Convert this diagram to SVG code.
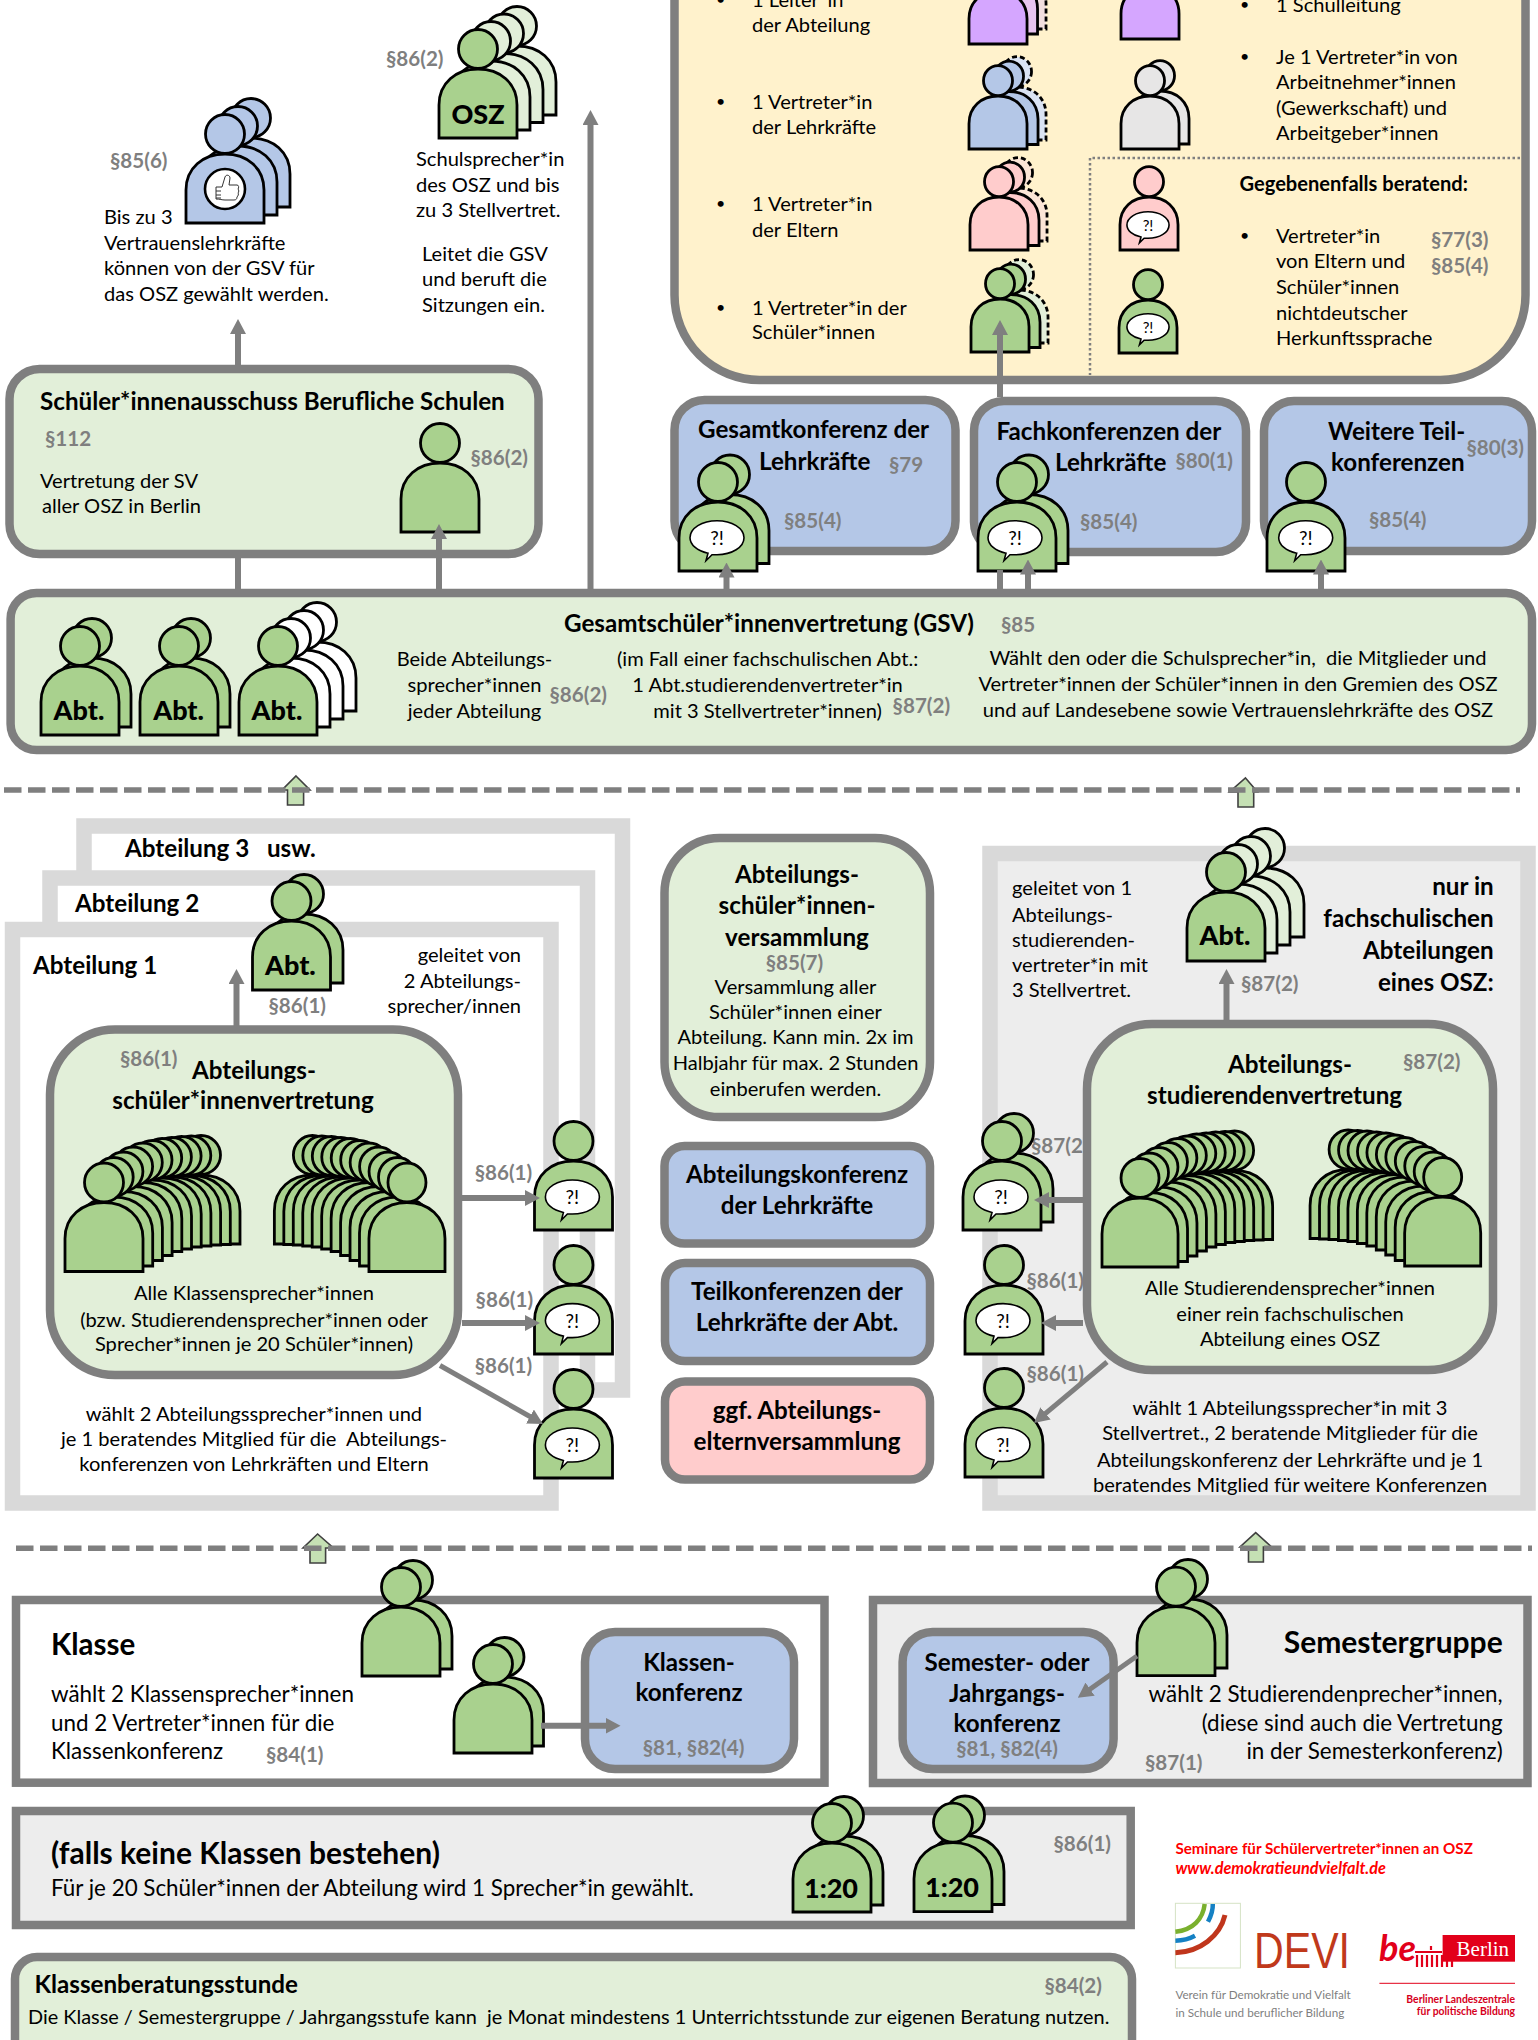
<svg xmlns="http://www.w3.org/2000/svg" width="1538" height="2040" viewBox="0 0 1538 2040">
<style>
text{font-family:Lato,"Open Sans","Liberation Sans",sans-serif;font-size:20.1px;fill:#000;white-space:pre}
.b{font-weight:700}
.h{font-weight:700;font-size:24.2px}
.s{font-weight:700;fill:#7f7f7f;font-size:20.6px}
.m{text-anchor:middle}
.e{text-anchor:end}
.abt{font-weight:900;font-size:27px;text-anchor:middle}
.q{font-size:19px;text-anchor:middle}
.bu{font-size:16px}
.l{font-size:22.4px}
.ppl{stroke:#000;stroke-width:2.8;stroke-linejoin:miter}
.ns{vector-effect:non-scaling-stroke}
.box{stroke:#7f7f7f;stroke-width:8.5}
.fr{stroke:#d9d9d9;stroke-width:15.5}
.g{fill:#a9d18e}.gl{fill:#e2efd9}.bl{fill:#b4c7e7}.pk{fill:#ffcccc}
.dash{stroke-dasharray:5 3}
.lv{fill:#c5e0b4;stroke:#404040;stroke-width:1.6}
.con line{stroke:#7f7f7f;stroke-width:6;fill:none}
.dl{stroke:#7f7f7f;stroke-width:5.5;stroke-dasharray:17.5 6.5;fill:none}
</style>
<defs>
<g id="p">
<path class="ns" d="M0 69V36C0 14 17 0 39 0S78 14 78 36V69Z"/>
<ellipse class="ns" cx="39" cy="-20" rx="19.5" ry="19.5"/>
</g>
<g id="crowdL">
<use href="#p" x="97" y="-27.5"/><use href="#p" x="87.3" y="-27"/><use href="#p" x="77.6" y="-26.5"/><use href="#p" x="67.9" y="-25.5"/><use href="#p" x="58.2" y="-24.5"/><use href="#p" x="48.5" y="-22.5"/><use href="#p" x="38.8" y="-20"/><use href="#p" x="29.1" y="-16"/><use href="#p" x="19.4" y="-11"/><use href="#p" x="9.7" y="-5.5"/><use href="#p"/>
</g>
<path id="bub" class="ns" fill="#fff" stroke="#000" stroke-width="1.6" d="M-9 15.5C-20 13-27 7-27 0C-27-9.5-15-17 0-17S27-9.5 27 0S15 17 0 17C-2 17-3 17-5 17L-11 23Z"/>
<marker id="a" markerUnits="userSpaceOnUse" markerWidth="15" markerHeight="16" refX="5" refY="8" orient="auto"><path d="M0 0L15 8L0 16Z" fill="#7f7f7f"/></marker>
</defs>

<g id="abteilung-3"><rect x="84" y="826" width="538.5" height="564" fill="#fff" class="fr"/><text x="125" y="857" class="h">Abteilung 3   usw.</text></g>
<g id="abteilung-2"><rect x="50" y="878" width="537.5" height="512" fill="#fff" class="fr"/><text x="75" y="912" class="h">Abteilung 2</text></g>
<g id="abteilung-1"><rect x="12.5" y="929.5" width="538.5" height="573.5" fill="#fff" class="fr"/><text x="33" y="974" class="h">Abteilung 1</text>
<text x="521" y="962" class="e">geleitet von</text><text x="521" y="988" class="e">2 Abteilungs-</text><text x="521" y="1013" class="e">sprecher/innen</text>
<text x="254" y="1420.6" class="m">wählt 2 Abteilungssprecher*innen und</text><text x="254" y="1446" class="m">je 1 beratendes Mitglied für die  Abteilungs-</text><text x="254" y="1471" class="m">konferenzen von Lehrkräften und Eltern</text></g>
<g id="fachschule"><rect x="990" y="853.5" width="538" height="649.5" fill="#ededed" class="fr"/>
<text x="1012" y="895" >geleitet von 1</text><text x="1012" y="921.6">Abteilungs-</text><text x="1012" y="947">studierenden-</text><text x="1012" y="972">vertreter*in mit</text><text x="1012" y="997">3 Stellvertret.</text>
<text x="1493.7" y="895.4" class="h e">nur in</text><text x="1493.7" y="927" class="h e">fachschulischen</text><text x="1493.7" y="959" class="h e">Abteilungen</text><text x="1493.7" y="991" class="h e">eines OSZ:</text>
<text x="1241" y="990.5" class="s">§87(2)</text>
<text x="1290" y="1415" class="m">wählt 1 Abteilungssprecher*in mit 3</text><text x="1290" y="1440.4" class="m">Stellvertret., 2 beratende Mitglieder für die</text><text x="1290" y="1466.6" class="m">Abteilungskonferenz der Lehrkräfte und je 1</text><text x="1290" y="1492" class="m">beratendes Mitglied für weitere Konferenzen</text></g>

<g id="vertrauen" class="ppl bl">
<use href="#p" transform="translate(212 138)"/><use href="#p" transform="translate(199 146)"/><use href="#p" transform="translate(186 154)"/>
<circle cx="225" cy="189" r="20" fill="#fff" stroke="#000" stroke-width="2.6"/>
<path fill="none" stroke="#333" stroke-width="1" d="M216 187h6l3-10c1-3 5-2 5 1l-1 7h8c2 0 2 3 1 4 1 1 1 3 0 4 1 1 0 3-1 4 0 2-1 3-3 3h-9c-3 0-5-1-9-1zM216 191h5M216 195h5M216 198h5"/>
</g>
<g id="vertrauen-text"><text x="110" y="168" class="s">§85(6)</text>
<text x="104" y="224">Bis zu 3</text><text x="104" y="249.5">Vertrauenslehrkräfte</text><text x="104" y="275">können von der GSV für</text><text x="104" y="301">das OSZ gewählt werden.</text></g>

<g id="osz"><g class="ppl gl"><use href="#p" transform="translate(478 46)"/><use href="#p" transform="translate(465 53.5)"/><use href="#p" transform="translate(452 61)"/></g>
<g class="ppl g"><use href="#p" transform="translate(439 69)"/></g>
<text x="478" y="124" class="abt">OSZ</text><text x="386" y="66" class="s">§86(2)</text>
<text x="416" y="166">Schulsprecher*in</text><text x="416" y="191.5">des OSZ und bis</text><text x="416" y="217">zu 3 Stellvertret.</text>
<text x="422" y="261">Leitet die GSV</text><text x="422" y="286">und beruft die</text><text x="422" y="312">Sitzungen ein.</text></g>

<g id="schuelerausschuss"><rect x="9.5" y="369" width="529" height="185" rx="30" class="box gl"/>
<text x="40" y="409.5" class="h">Schüler*innenausschuss Berufliche Schulen</text>
<text x="45" y="446" class="s">§112</text><text x="40" y="487.5">Vertretung der SV</text><text x="42" y="513">aller OSZ in Berlin</text>
<use href="#p" transform="translate(401 463)" class="ppl g"/><text x="470.5" y="464.5" class="s">§86(2)</text></g>

<g id="gremium"><rect x="674.5" y="-100" width="851" height="480" rx="85" fill="#fff2cc" class="box"/>
<text x="716" y="5" class="bu">•</text><text x="752" y="6.5">1 Leiter*in</text><text x="752" y="32">der Abteilung</text>
<text x="716" y="107" class="bu">•</text><text x="752" y="109">1 Vertreter*in</text><text x="752" y="134">der Lehrkräfte</text>
<text x="716" y="209" class="bu">•</text><text x="752" y="211">1 Vertreter*in</text><text x="752" y="236.5">der Eltern</text>
<text x="716" y="312.6" class="bu">•</text><text x="752" y="314.6">1 Vertreter*in der</text><text x="752" y="339">Schüler*innen</text>
<text x="1240" y="9.5" class="bu">•</text><text x="1276" y="11.5">1 Schulleitung</text>
<text x="1240" y="62" class="bu">•</text><text x="1276" y="64">Je 1 Vertreter*in von</text><text x="1276" y="89">Arbeitnehmer*innen</text><text x="1276" y="115">(Gewerkschaft) und</text><text x="1276" y="140">Arbeitgeber*innen</text>
<text x="1239.5" y="191" class="b">Gegebenenfalls beratend:</text>
<text x="1240" y="241" class="bu">•</text><text x="1276" y="243">Vertreter*in</text><text x="1276" y="268">von Eltern und</text><text x="1276" y="294">Schüler*innen</text><text x="1276" y="320">nichtdeutscher</text><text x="1276" y="345">Herkunftssprache</text>
<text x="1431" y="247" class="s">§77(3)</text><text x="1431" y="272.5" class="s">§85(4)</text>
<path d="M1525 158H1090V375" fill="none" stroke="#7f7f7f" stroke-width="2.5" stroke-dasharray="2.5 2.5"/>
<g class="ppl">
<use href="#p" transform="translate(988 -24) scale(.744 .768)" fill="#f2dfdf" class="dash"/><use href="#p" transform="translate(979.5 -19) scale(.744 .768)" fill="#e8c4f0"/><use href="#p" transform="translate(969 -9) scale(.744 .768)" fill="#d5a6ff"/>
<use href="#p" transform="translate(1121 -14) scale(.744 .768)" fill="#d5a6ff"/>
<use href="#p" transform="translate(988 87) scale(.744 .768)" fill="#dae3f3" class="dash"/><use href="#p" transform="translate(980 91.5) scale(.744 .768)" fill="#b4c7e7"/><use href="#p" transform="translate(969 96) scale(.744 .768)" fill="#b4c7e7"/>
<use href="#p" transform="translate(1131 91) scale(.744 .768)" fill="#e7e6e6"/><use href="#p" transform="translate(1121 96) scale(.744 .768)" fill="#e7e6e6"/>
<use href="#p" transform="translate(989 188) scale(.744 .768)" fill="#fbe5d6" class="dash"/><use href="#p" transform="translate(981 192.5) scale(.744 .768)" fill="#ffcccc"/><use href="#p" transform="translate(970 197) scale(.744 .768)" fill="#ffcccc"/>
<use href="#p" transform="translate(1120 197) scale(.744 .768)" fill="#ffcccc"/>
<use href="#p" transform="translate(990 290) scale(.744 .768)" fill="#e2efd9" class="dash"/><use href="#p" transform="translate(982 294.5) scale(.744 .768)" fill="#a9d18e"/><use href="#p" transform="translate(971 299) scale(.744 .768)" fill="#a9d18e"/>
<use href="#p" transform="translate(1119 300) scale(.744 .768)" fill="#a9d18e"/>
</g>
<use href="#bub" transform="translate(1148 225) scale(.78)"/><text x="1148" y="230.5" class="q" style="font-size:15px">?!</text>
<use href="#bub" transform="translate(1148 327) scale(.78)"/><text x="1148" y="332.5" class="q" style="font-size:15px">?!</text></g>

<g id="gesamtkonferenz"><rect x="674.5" y="400" width="281" height="151" rx="30" class="box bl"/>
<text x="698" y="438" class="h">Gesamtkonferenz der</text><text x="759" y="469.6" class="h">Lehrkräfte</text>
<text x="889" y="471.5" class="s">§79</text><text x="784" y="528" class="s">§85(4)</text>
<g class="ppl g"><use href="#p" transform="translate(691 494.5)"/><use href="#p" transform="translate(679 502)"/></g>
<use href="#bub" transform="translate(717 537.7)"/><text x="717" y="544.5" class="q">?!</text></g>

<g id="fachkonferenzen"><rect x="974" y="401" width="272" height="151" rx="30" class="box bl"/>
<text x="996.5" y="440" class="h">Fachkonferenzen der</text><text x="1055" y="471" class="h">Lehrkräfte</text>
<text x="1175.5" y="468" class="s">§80(1)</text><text x="1080" y="529" class="s">§85(4)</text>
<g class="ppl g"><use href="#p" transform="translate(990 494.5)"/><use href="#p" transform="translate(978 502)"/></g>
<use href="#bub" transform="translate(1015 537.7)"/><text x="1015" y="544.5" class="q">?!</text></g>

<g id="teilkonferenzen"><rect x="1264" y="401" width="268" height="150" rx="30" class="box bl"/>
<text x="1328" y="440" class="h">Weitere Teil-</text><text x="1331" y="471" class="h">konferenzen</text>
<text x="1466.5" y="455" class="s">§80(3)</text><text x="1369" y="526.5" class="s">§85(4)</text>
<use href="#p" transform="translate(1267 502)" class="ppl g"/>
<use href="#bub" transform="translate(1305.7 537.7)"/><text x="1305.7" y="544.5" class="q">?!</text></g>

<g id="gsv"><rect x="10.6" y="593" width="1521.4" height="157" rx="26" class="box gl"/>
<g class="ppl g"><use href="#p" transform="translate(53 658)"/><use href="#p" transform="translate(41 666)"/><use href="#p" transform="translate(152 658)"/><use href="#p" transform="translate(140 666)"/></g>
<g class="ppl" fill="#fff"><use href="#p" transform="translate(278 642)"/><use href="#p" transform="translate(265 650)"/><use href="#p" transform="translate(252 658)"/></g>
<use href="#p" transform="translate(239 666)" class="ppl g"/>
<text x="79" y="720" class="abt">Abt.</text><text x="178.6" y="720" class="abt">Abt.</text><text x="277" y="720" class="abt">Abt.</text>
<text x="474.5" y="666" class="m">Beide Abteilungs-</text><text x="474.5" y="691.7" class="m">sprecher*innen</text><text x="474.5" y="717.7" class="m">jeder Abteilung</text>
<text x="549.5" y="702" class="s">§86(2)</text>
<text x="767.6" y="666" class="m">(im Fall einer fachschulischen Abt.:</text><text x="767.6" y="691.7" class="m">1 Abt.studierendenvertreter*in</text><text x="767.6" y="717.7" class="m">mit 3 Stellvertreter*innen)</text>
<text x="892.6" y="713" class="s">§87(2)</text>
<text x="564" y="631.7" class="h">Gesamtschüler*innenvertretung (GSV)</text><text x="1001" y="632" class="s">§85</text>
<text x="1238" y="665" class="m">Wählt den oder die Schulsprecher*in,  die Mitglieder und</text><text x="1238" y="691" class="m">Vertreter*innen der Schüler*innen in den Gremien des OSZ</text><text x="1238" y="717" class="m">und auf Landesebene sowie Vertrauenslehrkräfte des OSZ</text></g>

<g id="abt-sprecher"><g class="ppl g"><use href="#p" transform="translate(265 914)"/><use href="#p" transform="translate(252.5 921)"/></g>
<text x="290.4" y="975" class="abt">Abt.</text><text x="268.5" y="1013" class="s">§86(1)</text></g>

<g id="abt-vertretung"><rect x="50" y="1029.5" width="408" height="345.5" rx="65" class="box gl"/>
<text x="120" y="1066" class="s">§86(1)</text><text x="254" y="1078.6" class="h m">Abteilungs-</text><text x="243" y="1109" class="h m">schüler*innenvertretung</text>
<g class="ppl g"><use href="#crowdL" transform="translate(65 1202.5)"/><use href="#crowdL" transform="translate(445 1202.5) scale(-.975 1)"/></g>
<text x="254" y="1300" class="m">Alle Klassensprecher*innen</text><text x="254" y="1326.5" class="m">(bzw. Studierendensprecher*innen oder</text><text x="254" y="1351" class="m">Sprecher*innen je 20 Schüler*innen)</text></g>

<g id="abt-berater">
<g class="ppl g"><use href="#p" transform="translate(534.5 1161)"/><use href="#p" transform="translate(534.5 1285)"/><use href="#p" transform="translate(534.5 1409)"/></g>
<use href="#bub" transform="translate(572.4 1197)"/><text x="572.4" y="1204" class="q">?!</text>
<use href="#bub" transform="translate(572.4 1320.6)"/><text x="572.4" y="1327.5" class="q">?!</text>
<use href="#bub" transform="translate(572.4 1445)"/><text x="572.4" y="1452" class="q">?!</text>
<text x="474.7" y="1179.6" class="s">§86(1)</text><text x="475.6" y="1306.8" class="s">§86(1)</text><text x="474.7" y="1373" class="s">§86(1)</text></g>

<g id="versammlung"><rect x="664.5" y="838" width="265.5" height="279" rx="55" class="box gl"/>
<text x="797" y="882.5" class="h m">Abteilungs-</text><text x="797" y="914" class="h m">schüler*innen-</text><text x="797" y="945.5" class="h m">versammlung</text>
<text x="794.4" y="970" class="s m">§85(7)</text>
<text x="795.5" y="993.6" class="m">Versammlung aller</text><text x="795.5" y="1019" class="m">Schüler*innen einer</text><text x="795.5" y="1044" class="m">Abteilung. Kann min. 2x im</text><text x="795.5" y="1070" class="m">Halbjahr für max. 2 Stunden</text><text x="795.5" y="1096" class="m">einberufen werden.</text></g>
<g id="abt-konferenz"><rect x="664.5" y="1146" width="265.5" height="97.5" rx="20" class="box bl"/><text x="797" y="1183" class="h m">Abteilungskonferenz</text><text x="797" y="1214" class="h m">der Lehrkräfte</text></g>
<g id="teil-konferenz"><rect x="665" y="1263" width="265" height="98" rx="20" class="box bl"/><text x="797" y="1300" class="h m">Teilkonferenzen der</text><text x="797" y="1331" class="h m">Lehrkräfte der Abt.</text></g>
<g id="eltern"><rect x="665" y="1381.5" width="265" height="98" rx="20" class="box pk"/><text x="797" y="1419" class="h m">ggf. Abteilungs-</text><text x="797" y="1449.6" class="h m">elternversammlung</text></g>

<g id="fach-sprecher"><g class="ppl gl"><use href="#p" transform="translate(1226 868)"/><use href="#p" transform="translate(1212 876)"/><use href="#p" transform="translate(1199 884)"/></g>
<use href="#p" transform="translate(1187 892)" class="ppl g"/><text x="1225" y="945" class="abt">Abt.</text></g>
<g id="fach-berater">
<text x="1031" y="1153.4" class="s">§87(2)</text><text x="1026.5" y="1287.5" class="s">§86(1)</text><text x="1026.5" y="1380.7" class="s">§86(1)</text>
<g class="ppl g"><use href="#p" transform="translate(975 1153)"/><use href="#p" transform="translate(963 1161)"/><use href="#p" transform="translate(965 1285)"/><use href="#p" transform="translate(965 1408)"/></g>
<use href="#bub" transform="translate(1001 1197)"/><text x="1001" y="1204" class="q">?!</text>
<use href="#bub" transform="translate(1003 1320.6)"/><text x="1003" y="1327.5" class="q">?!</text>
<use href="#bub" transform="translate(1003 1444.5)"/><text x="1003" y="1451.5" class="q">?!</text></g>
<g id="fach-vertretung"><rect x="1087" y="1024" width="406" height="346" rx="65" class="box gl"/>
<text x="1290" y="1072.6" class="h m">Abteilungs-</text><text x="1274.6" y="1104" class="h m">studierendenvertretung</text><text x="1403" y="1069.4" class="s">§87(2)</text>
<g class="ppl g"><use href="#crowdL" transform="translate(1102 1198) scale(.975 1)"/><use href="#crowdL" transform="translate(1480.7 1197) scale(-.975 1)"/></g>
<text x="1290" y="1295" class="m">Alle Studierendensprecher*innen</text><text x="1290" y="1320.6" class="m">einer rein fachschulischen</text><text x="1290" y="1346" class="m">Abteilung eines OSZ</text></g>

<g id="klasse"><rect x="16" y="1600" width="808.5" height="182.7" fill="#fff" class="box"/>
<text x="51" y="1655" style="font-size:29.5px" class="b">Klasse</text>
<text x="51" y="1701.7" class="l">wählt 2 Klassensprecher*innen</text><text x="51" y="1730.7" class="l">und 2 Vertreter*innen für die</text><text x="51" y="1759" class="l">Klassenkonferenz</text>
<text x="266" y="1761.7" class="s">§84(1)</text>
<rect x="585" y="1632" width="209" height="137" rx="30" class="box bl"/>
<text x="689" y="1670.7" class="h m">Klassen-</text><text x="689" y="1701" class="h m">konferenz</text><text x="693.5" y="1755" class="s m">§81, §82(4)</text>
<g class="ppl g"><use href="#p" transform="translate(374 1600)"/><use href="#p" transform="translate(362 1607)"/><use href="#p" transform="translate(465.5 1677)"/><use href="#p" transform="translate(454 1684)"/></g></g>

<g id="semester"><rect x="873" y="1600" width="654.5" height="183" fill="#ededed" class="box"/>
<text x="1502.7" y="1653" style="font-size:30px" class="b e">Semestergruppe</text>
<text x="1502.7" y="1701.7" class="l e">wählt 2 Studierendenprecher*innen,</text><text x="1502.7" y="1730.7" class="l e">(diese sind auch die Vertretung</text><text x="1502.7" y="1759" class="l e">in der Semesterkonferenz)</text>
<text x="1145" y="1770" class="s">§87(1)</text>
<rect x="902.6" y="1632" width="211" height="137" rx="30" class="box bl"/>
<text x="1007" y="1670.7" class="h m">Semester- oder</text><text x="1007" y="1701.7" class="h m">Jahrgangs-</text><text x="1007" y="1732" class="h m">konferenz</text><text x="1007" y="1756" class="s m">§81, §82(4)</text>
<g class="ppl g"><use href="#p" transform="translate(1149 1599)"/><use href="#p" transform="translate(1137 1606.7)"/></g></g>

<g id="keine-klassen"><rect x="16" y="1811" width="1114.7" height="114" fill="#ededed" class="box"/>
<text x="51" y="1864" style="font-size:30px" class="b">(falls keine Klassen bestehen)</text>
<text x="51" y="1895.6" class="l">Für je 20 Schüler*innen der Abteilung wird 1 Sprecher*in gewählt.</text>
<text x="1053.5" y="1850.7" class="s">§86(1)</text>
<g class="ppl g"><use href="#p" transform="translate(805 1836)"/><use href="#p" transform="translate(793 1843)"/><use href="#p" transform="translate(926 1835.5)"/><use href="#p" transform="translate(914 1842.7)"/></g>
<text x="831" y="1897.5" class="abt">1:20</text><text x="952" y="1897" class="abt">1:20</text></g>

<g id="beratungsstunde"><rect x="15" y="1957" width="1117" height="120" rx="22" class="box gl"/>
<text x="34.4" y="1993" class="h">Klassenberatungsstunde</text>
<text x="28" y="2024" style="font-size:19.9px">Die Klasse / Semestergruppe / Jahrgangsstufe kann  je Monat mindestens 1 Unterrichtsstunde zur eigenen Beratung nutzen.</text>
<text x="1044.4" y="1992.7" class="s">§84(2)</text></g>

<g id="absender">
<text x="1175.4" y="1854" class="b" style="fill:#f00;font-size:15.2px">Seminare für Schülervertreter*innen an OSZ</text>
<text x="1175.4" y="1874" class="b" style="fill:#f00;font-size:16.2px;font-style:italic">www.demokratieundvielfalt.de</text>
<rect x="1175.4" y="1903.3" width="65" height="64.7" fill="#fff" stroke="#d5e3c5" stroke-width="1"/>
<path d="M1204.7 1904C1203 1919 1193 1930 1175.4 1931.7" fill="none" stroke="#7ab02e" stroke-width="4.5"/>
<path d="M1212.8 1904C1213 1910 1211 1916 1208 1921.7M1175.4 1940.7C1182 1940.5 1189 1939 1195 1935.7" fill="none" stroke="#1581c4" stroke-width="4.5"/>
<path d="M1225 1915C1220 1936 1200 1952 1175.4 1952.7" fill="none" stroke="#c0361c" stroke-width="5"/>
<text x="1254" y="1968" textLength="96" lengthAdjust="spacingAndGlyphs" style="font-family:'Liberation Sans',sans-serif;font-size:50px;fill:#c0391b">DEVI</text>
<text x="1175.4" y="1999" style="fill:#7f7f7f;font-size:11.7px">Verein für Demokratie und Vielfalt</text>
<text x="1175.4" y="2016.7" style="fill:#7f7f7f;font-size:11.7px">in Schule und beruflicher Bildung</text>
<text x="1379" y="1960.7" class="b" style="fill:#e2001a;font-size:36px;font-style:italic">be</text>
<rect x="1442.6" y="1935" width="72.4" height="26.7" fill="#e2001a"/>
<text x="1456.6" y="1955.7" style="font-family:'Liberation Serif',serif;font-size:21px;fill:#fff">Berlin</text>
<path d="M1417 1967V1955M1422 1967V1955M1427 1967V1955M1432 1967V1955M1437 1967V1955M1442 1967V1955M1447 1967V1955M1452 1967V1955M1415 1952H1442M1431 1946V1950" stroke="#e2001a" stroke-width="2.2" fill="none"/>
<path d="M1379.4 1983.3H1515" stroke="#e2001a" stroke-width="1"/>
<text x="1515" y="2002.7" class="b e" style="fill:#d6001c;font-size:10.4px">Berliner Landeszentrale</text>
<text x="1515" y="2015" class="b e" style="fill:#d6001c;font-size:10.4px">für politische Bildung</text>
</g>

<g id="ebenen">
<path class="lv" d="M296 776L310 790H303.6V805H287.5V790H282Z"/><path class="lv" d="M1245.5 778L1257.5 792H1253.7V807H1238V792H1229.5Z"/>
<path class="lv" d="M317.6 1534L333.5 1548H325.6V1563H310V1548H303Z"/><path class="lv" d="M1255.7 1532.7L1271.5 1547H1263.4V1562H1248.5V1547H1240Z"/>
<line class="dl" x1="4" y1="790" x2="1520" y2="790"/><line class="dl" x1="16" y1="1548.3" x2="1532" y2="1548.3"/>
</g>

<g id="connectors" class="con">
<line x1="238" y1="365" x2="238" y2="329" marker-end="url(#a)"/>
<line x1="238" y1="558" x2="238" y2="590"/>
<line x1="439" y1="590" x2="439" y2="534" marker-end="url(#a)"/>
<line x1="590.5" y1="590" x2="590.5" y2="120" marker-end="url(#a)"/>
<line x1="726.5" y1="590" x2="726.5" y2="572.5" marker-end="url(#a)"/>
<line x1="1000" y1="590" x2="1000" y2="570"/>
<line x1="1000" y1="397" x2="1000" y2="330" marker-end="url(#a)"/>
<line x1="1028" y1="590" x2="1028" y2="569.5" marker-end="url(#a)"/>
<line x1="1321" y1="590" x2="1321" y2="569.5" marker-end="url(#a)"/>
<line x1="236.5" y1="1026" x2="236.5" y2="979" marker-end="url(#a)"/>
<line x1="462" y1="1198" x2="530" y2="1198" marker-end="url(#a)"/>
<line x1="462" y1="1323" x2="530" y2="1323" marker-end="url(#a)"/>
<line x1="440" y1="1365.5" x2="534.3" y2="1419" marker-end="url(#a)" style="stroke-width:5"/>
<line x1="1226.5" y1="1021" x2="1226.5" y2="979" marker-end="url(#a)"/>
<line x1="1083" y1="1200" x2="1044" y2="1200" marker-end="url(#a)"/>
<line x1="1083" y1="1323" x2="1051" y2="1323" marker-end="url(#a)"/>
<line x1="1107" y1="1362" x2="1041.7" y2="1416.6" marker-end="url(#a)" style="stroke-width:5"/>
<line x1="541" y1="1725.7" x2="610.5" y2="1725.7" marker-end="url(#a)"/>
<line x1="1137" y1="1656" x2="1086" y2="1692" marker-end="url(#a)" style="stroke-width:5"/>
</g>
</svg>
